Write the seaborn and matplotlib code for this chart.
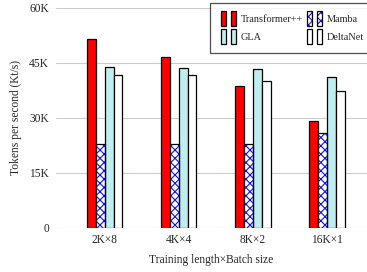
import matplotlib
matplotlib.use('Agg')
import matplotlib.pyplot as plt
import seaborn as sns
import pandas as pd
from matplotlib.patches import Rectangle
from matplotlib.legend_handler import HandlerBase

configs = ["2K\u00d78", "4K\u00d74", "8K\u00d72", "16K\u00d71"]
models = ["Transformer++", "Mamba", "GLA", "DeltaNet"]
transformer = [51.5, 46.7, 38.7, 29.3]
mamba = [22.9, 22.9, 22.9, 26.0]
gla = [43.9, 43.6, 43.3, 41.2]
deltanet = [41.6, 41.6, 40.2, 37.4]

styles = {
    "Transformer++": dict(face="#ff0000", edge="black", hatch=None),
    "Mamba": dict(face="white", edge="#1010ff", hatch="xxxx"),
    "GLA": dict(face="#bfeef0", edge="black", hatch=None),
    "DeltaNet": dict(face="white", edge="black", hatch=None),
}

rows = []
for m, vals in zip(models, [transformer, mamba, gla, deltanet]):
    for c, v in zip(configs, vals):
        rows.append({"config": c, "model": m, "value": v * 1000})
df = pd.DataFrame(rows)

sns.set_style("white")
plt.rcParams['font.family'] = ['Liberation Serif', 'DejaVu Serif']
plt.rcParams['hatch.linewidth'] = 0.8

fig = plt.figure(figsize=(3.67, 2.72), dpi=100)
ax = fig.add_axes([0.1526, 0.1618, 0.8474, 0.8088])

sns.barplot(data=df, x="config", y="value", hue="model", order=configs,
            hue_order=models, width=0.48, gap=0.05, ax=ax, legend=False,
            linewidth=0.9, edgecolor="black")

for cont, m in zip(ax.containers, models):
    st = styles[m]
    for p in cont.patches:
        p.set_facecolor(st["face"])
        if st["hatch"]:
            p.set_edgecolor(st["edge"])
            p.set_hatch(st["hatch"])
            p.set_linewidth(0)
            ax.add_patch(Rectangle(p.get_xy(), p.get_width(), p.get_height(),
                                   fill=False, edgecolor="black", linewidth=0.9, zorder=p.get_zorder() + 0.1))
        else:
            p.set_edgecolor("black")


class PairHandler(HandlerBase):
    def __init__(self, st):
        super().__init__()
        self.st = st

    def create_artists(self, legend, orig, xd, yd, width, height, fontsize, trans):
        out = []
        w = width * 0.34
        h = fontsize * 1.5
        y0 = -yd + height / 2 - h / 2
        for x0 in (-xd + width * 0.02, -xd + width * 0.64):
            if self.st["hatch"]:
                out.append(Rectangle((x0, y0), w, h, facecolor=self.st["face"],
                                     edgecolor=self.st["edge"], hatch=self.st["hatch"], linewidth=0, transform=trans))
                out.append(Rectangle((x0, y0), w, h, fill=False,
                                     edgecolor="black", linewidth=0.9, transform=trans))
            else:
                out.append(Rectangle((x0, y0), w, h, facecolor=self.st["face"],
                                     edgecolor="black", linewidth=0.9, transform=trans))
        return out


leg_order = ["Transformer++", "GLA", "Mamba", "DeltaNet"]
handles = [Rectangle((0, 0), 1, 1) for _ in leg_order]
leg = ax.legend(handles, leg_order, ncol=2, loc="upper left", bbox_to_anchor=(0.494, 1.022),
                handler_map={h: PairHandler(styles[m]) for h, m in zip(handles, leg_order)},
                frameon=True, fancybox=False, fontsize=7.4, handlelength=1.55, handleheight=0.9,
                handletextpad=0.45, columnspacing=0.3, borderpad=1.05, labelspacing=0.8,
                borderaxespad=0)
leg.get_frame().set_edgecolor("#222222")
leg.get_frame().set_linewidth(0.9)
leg.set_zorder(5)

ax.set_ylim(0, 60000)
ax.set_xlim(-0.66, 3.54)
ax.set_yticks([0, 15000, 30000, 45000, 60000])
ax.set_yticklabels(["0", "15K", "30K", "45K", "60K"])
ax.yaxis.grid(True, color="#cccccc", linewidth=0.8)
ax.set_axisbelow(True)
for s in ax.spines.values():
    s.set_visible(False)
ax.tick_params(axis="y", length=2, width=0.5, color="#999999", labelsize=8.3, pad=3)
ax.tick_params(axis="x", length=0, labelsize=8.3, pad=4)
ax.set_ylabel("Tokens per second (Kt/s)", fontsize=8.3, labelpad=5)
ax.set_xlabel("Training length\u00d7Batch size", fontsize=8.3, labelpad=6)

fig.savefig("out.png", dpi=100)
